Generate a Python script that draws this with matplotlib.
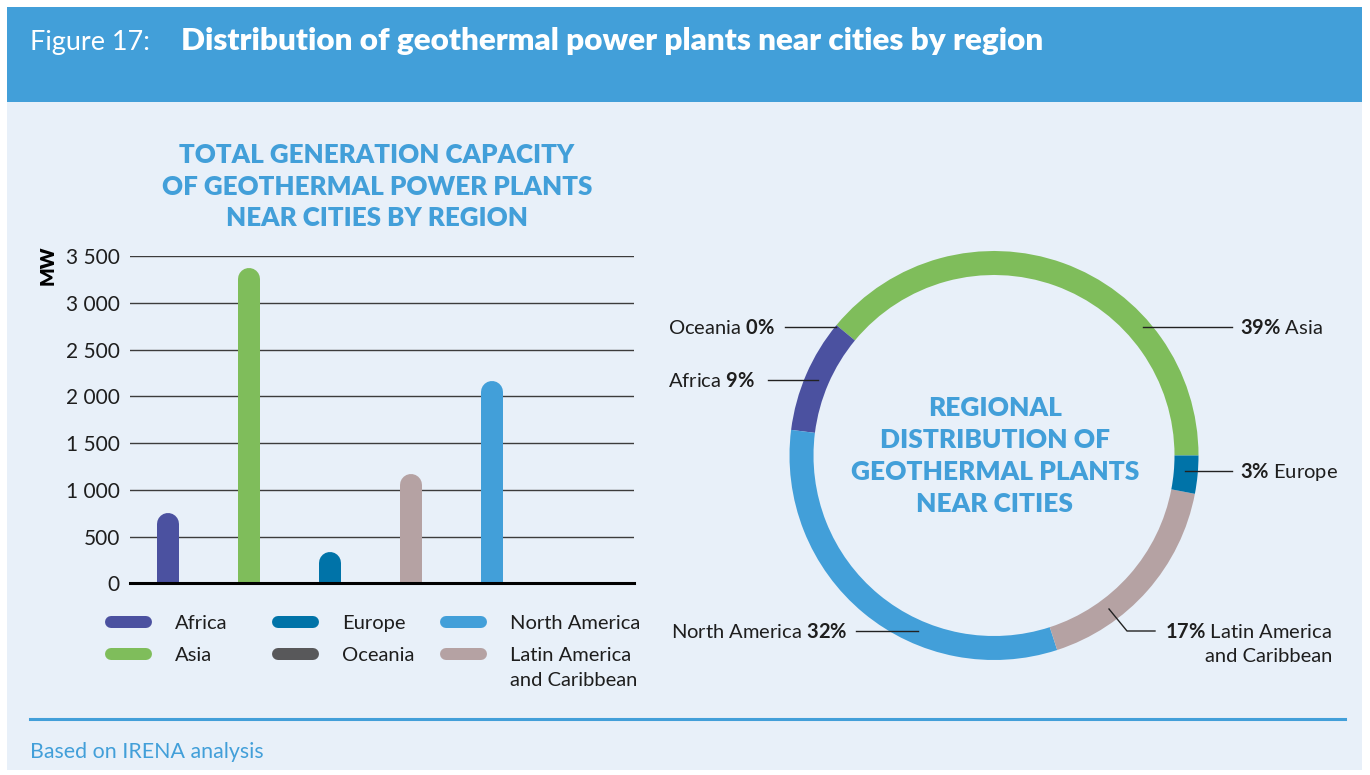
import matplotlib
matplotlib.use("Agg")
import matplotlib.pyplot as plt
from matplotlib.patches import Rectangle
from matplotlib.lines import Line2D

# ---------------- data ----------------
bar_regions = ["Africa", "Asia", "Europe", "Latin America\nand Caribbean", "North America", "Oceania"]
capacity_mw = [750, 3375, 330, 1165, 2165, 0]
bar_colors = ["#4B51A0", "#7FBD5B", "#0073A8", "#B5A2A3", "#429FD9", "#58585A"]

legend_labels = ["Africa", "Asia", "Europe", "Oceania", "North America", "Latin America\nand Caribbean"]
legend_colors = ["#4B51A0", "#7FBD5B", "#0073A8", "#58585A", "#429FD9", "#B5A2A3"]

yticks = [0, 500, 1000, 1500, 2000, 2500, 3000, 3500]
ytick_labels = ["0", "500", "1 000", "1 500", "2 000", "2 500", "3 000", "3 500"]

donut_regions = ["Asia", "Oceania", "Africa", "North America", "Latin America\nand Caribbean", "Europe"]
donut_share = [39, 0, 9, 32, 17, 3]
donut_colors = ["#7FBD5B", "#58585A", "#4B51A0", "#429FD9", "#B5A2A3", "#0073A8"]

# ---------------- setup ----------------
W, H, DPI = 1370, 775, 100
BG = "#E8F0F9"
BLUE = "#429FD9"
TXT = "#1E1E1E"
BODY = "Lato"

plt.rcParams["font.family"] = [BODY, "DejaVu Sans"]
plt.rcParams["mathtext.fontset"] = "custom"
plt.rcParams["mathtext.rm"] = BODY
plt.rcParams["mathtext.bf"] = BODY + ":bold"

fig = plt.figure(figsize=(W / DPI, H / DPI), dpi=DPI, facecolor="white")
renderer = fig.canvas.get_renderer()


def fx(x):
    return x / W


def fy(y):
    return 1 - y / H


def fit(t, target):
    w = t.get_window_extent(renderer).width
    t.set_fontsize(t.get_fontsize() * target / w)


# backgrounds
fig.patches.append(Rectangle((fx(7), fy(770)), fx(1355), (763) / H, transform=fig.transFigure,
                             facecolor=BG, edgecolor="none", zorder=-10))
fig.patches.append(Rectangle((fx(7), fy(102)), fx(1355), 95 / H, transform=fig.transFigure,
                             facecolor=BLUE, edgecolor="none", zorder=-9))

# header
t = fig.text(fx(30), fy(50), "Figure 17:", color="white", fontsize=18, fontweight="normal", va="baseline")
fit(t, 120)
t = fig.text(fx(181), fy(50), "Distribution of geothermal power plants near cities by region",
             color="white", fontsize=18, fontweight="heavy", va="baseline")
fit(t, 862)

# footer
fig.add_artist(Line2D([fx(30), fx(1345)], [fy(719), fy(719)], transform=fig.transFigure,
                      color=BLUE, lw=2.2))
t = fig.text(fx(30), fy(758), "Based on IRENA analysis", color=BLUE, fontsize=13, va="baseline")
fit(t, 232)

# ---------------- bar chart ----------------
ax_l, ax_r, y0, y3500 = 130, 634, 583.3, 256
ax = fig.add_axes([fx(ax_l), fy(y0), (ax_r - ax_l) / W, (y0 - y3500) / H])
ax.set_facecolor("none")
for s in ax.spines.values():
    s.set_visible(False)
ax.set_ylim(0, 3500)
spacing = 81.0
ax.set_xlim((ax_l - 168) / spacing, (ax_r - 168) / spacing)
xs = list(range(len(bar_regions)))
for yv in yticks[1:]:
    ax.axhline(yv, color="#3C3C3C", lw=1.0, zorder=1)
ax.axhline(0, color="black", lw=2.2, zorder=4, clip_on=False)

bar_px = 22
cap_r = (bar_px / 2) * 3500 / (y0 - y3500)
for x, v, c in zip(xs, capacity_mw, bar_colors):
    if v > 0:
        ax.plot([x, x], [0, v - cap_r], color=c, lw=bar_px * 72 / DPI,
                solid_capstyle="round", zorder=3)
ax.set_xticks([])
ax.set_yticks(yticks, ytick_labels)
ax.tick_params(axis="y", length=0, pad=10 * 72 / DPI, labelsize=15, labelcolor=TXT)
fig.text(fx(48), fy(265), "MW", rotation=90, fontweight="heavy", fontsize=14,
         va="center", ha="center", color="black")

# chart title
title_lines = ["TOTAL GENERATION CAPACITY", "OF GEOTHERMAL POWER PLANTS", "NEAR CITIES BY REGION"]
tt = [fig.text(fx(377), fy(b), s, ha="center", va="baseline", fontweight="heavy",
               color=BLUE, fontsize=20) for s, b in zip(title_lines, [163, 195, 226])]
w = tt[1].get_window_extent(renderer).width
for t in tt:
    t.set_fontsize(20 * 430 / w)

# legend (manual)
col_x = [105, 272, 440]
row_b = [629, 661]
for i, (lab, c) in enumerate(zip(legend_labels, legend_colors)):
    col, row = i // 2, i % 2
    yc = row_b[row] - 7
    fig.add_artist(Line2D([fx(col_x[col] + 6), fx(col_x[col] + 41)], [fy(yc), fy(yc)],
                          transform=fig.transFigure, color=c, lw=12 * 72 / DPI,
                          solid_capstyle="round"))
    for k, part in enumerate(lab.split("\n")):
        fig.text(fx(col_x[col] + 70), fy(row_b[row] + 25 * k), part, va="baseline",
                 fontsize=14.5, color=TXT)

# ---------------- donut ----------------
cx, cy, R = 994, 455.5, 204.5
axp = fig.add_axes([fx(cx - R), fy(cy + R), 2 * R / W, 2 * R / H])
axp.pie(donut_share, colors=donut_colors, startangle=0, counterclock=True, radius=1,
        wedgeprops=dict(width=24 / R, edgecolor="none", linewidth=0))
axp.set_xlim(-1, 1)
axp.set_ylim(-1, 1)
axp.set_aspect("auto")
axp.axis("off")

center_lines = ["REGIONAL", "DISTRIBUTION OF", "GEOTHERMAL PLANTS", "NEAR CITIES"]
ct = [fig.text(fx(995), fy(b), s, ha="center", va="baseline", fontweight="heavy",
               color=BLUE, fontsize=20) for s, b in zip(center_lines, [416, 448, 480, 512])]
w = ct[2].get_window_extent(renderer).width
for t in ct:
    t.set_fontsize(20 * 288 / w)

# labels: (side, text_x, baseline, line points)
label_pos = {
    "Asia": ("right", 1240, 334, [(1143, 327), (1232, 327)]),
    "Oceania": ("left", 775, 334, [(785, 327), (836, 327)]),
    "Africa": ("left", 755, 387, [(768, 380), (818, 380)]),
    "North America": ("left", 847, 638, [(856, 631), (918, 631)]),
    "Latin America\nand Caribbean": ("right", 1165, 638, [(1109, 609), (1127, 631), (1155, 631)]),
    "Europe": ("right", 1240, 478, [(1185, 471), (1232, 471)]),
}
for reg, share in zip(donut_regions, donut_share):
    side, tx, tb, pts = label_pos[reg]
    fig.add_artist(Line2D([fx(p[0]) for p in pts], [fy(p[1]) for p in pts],
                          transform=fig.transFigure, color="#222222", lw=1.0))
    pct = r"$\mathbf{" + str(share) + r"\%}$"
    parts = reg.split("\n")
    if side == "left":
        fig.text(fx(tx), fy(tb), parts[0] + " " + pct, ha="right", va="baseline",
                 fontsize=14.5, color=TXT)
    else:
        fig.text(fx(tx), fy(tb), pct + " " + parts[0], ha="left", va="baseline",
                 fontsize=14.5, color=TXT)
        for k, p in enumerate(parts[1:]):
            fig.text(fx(1205), fy(tb + 24 * (k + 1)), p, ha="left", va="baseline",
                     fontsize=14.5, color=TXT)

fig.savefig("out.png", dpi=DPI, facecolor="white")
